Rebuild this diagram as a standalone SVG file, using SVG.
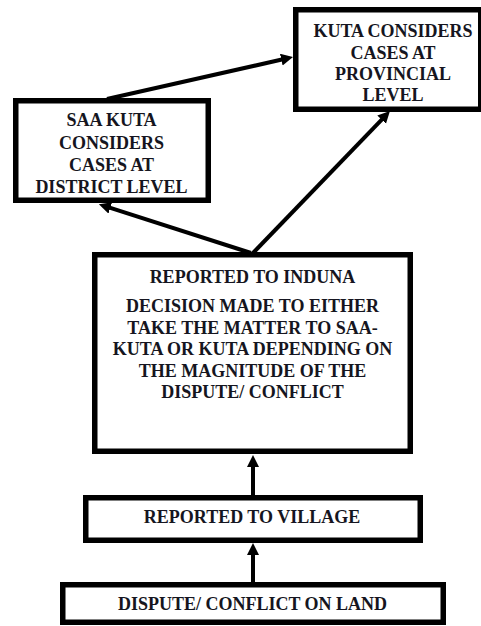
<svg xmlns="http://www.w3.org/2000/svg" width="481" height="626" viewBox="0 0 481 626">
<defs>
<style>
.box{fill:#fff;stroke:#000;stroke-width:5.5}
.t{font-weight:bold;font-size:18px;fill:#151520;text-anchor:middle}
.c{stroke:#000;stroke-width:4;fill:none;marker-end:url(#ah)}
</style>
<marker id="ah" markerUnits="userSpaceOnUse" markerWidth="14" markerHeight="14" refX="4" refY="6" orient="auto">
<path d="M0,0 L12,6 L0,12 z" fill="#000"/>
</marker>
</defs>
<rect width="481" height="626" fill="#fff"/>
<g font-family="Liberation Serif, Times New Roman, DejaVu Serif, serif">
<g id="kuta">
<rect class="box" x="295.75" y="9.75" width="185" height="99.5"/>
<text class="t" x="393" y="37">KUTA CONSIDERS</text>
<text class="t" x="393" y="59">CASES AT</text>
<text class="t" x="393" y="80">PROVINCIAL</text>
<text class="t" x="393" y="101">LEVEL</text>
</g>
<g id="saakuta">
<rect class="box" x="15.75" y="100.75" width="192.5" height="99.5"/>
<text class="t" x="111.5" y="126">SAA KUTA</text>
<text class="t" x="111.5" y="149">CONSIDERS</text>
<text class="t" x="111.5" y="171">CASES AT</text>
<text class="t" x="111.5" y="193">DISTRICT LEVEL</text>
</g>
<g id="induna">
<rect class="box" x="94.75" y="254.75" width="315.5" height="196.5"/>
<text class="t" x="252.5" y="283">REPORTED TO INDUNA</text>
<text class="t" x="252.5" y="312">DECISION MADE TO EITHER</text>
<text class="t" x="252.5" y="333.5">TAKE THE MATTER TO SAA-</text>
<text class="t" x="252.5" y="355">KUTA OR KUTA DEPENDING ON</text>
<text class="t" x="252.5" y="376.5">THE MAGNITUDE OF THE</text>
<text class="t" x="252.5" y="398">DISPUTE/ CONFLICT</text>
</g>
<g id="village">
<rect class="box" x="85.75" y="497.75" width="334.5" height="42.5"/>
<text class="t" x="252" y="523">REPORTED TO VILLAGE</text>
</g>
<g id="dispute">
<rect class="box" x="62.75" y="584.75" width="380.5" height="37.5"/>
<text class="t" x="252.5" y="610">DISPUTE/ CONFLICT ON LAND</text>
</g>
</g>
<g id="connectors">
<line class="c" x1="107" y1="99" x2="285.2" y2="58.8"/>
<line class="c" x1="253" y1="253" x2="384.4" y2="116.8"/>
<line class="c" x1="251" y1="253" x2="106.5" y2="206.7"/>
<line class="c" x1="253" y1="496" x2="253" y2="463"/>
<line class="c" x1="253" y1="582" x2="253" y2="551"/>
</g>
</svg>
